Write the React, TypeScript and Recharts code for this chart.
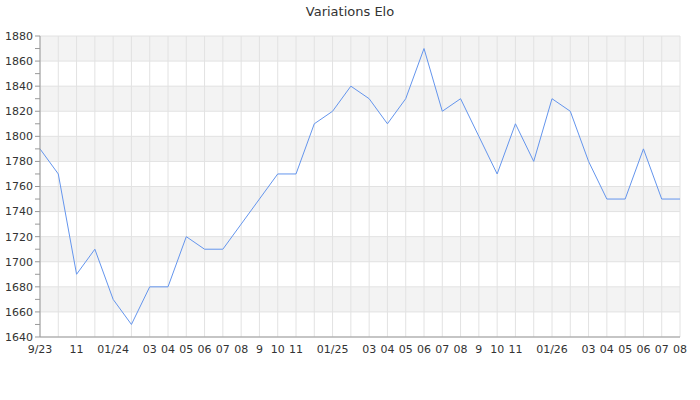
import React from 'react';
import { LineChart, Line, XAxis, YAxis, CartesianGrid } from 'recharts';

const months = [
  '2023-09', '2023-10', '2023-11', '2023-12',
  '2024-01', '2024-02', '2024-03', '2024-04', '2024-05', '2024-06',
  '2024-07', '2024-08', '2024-09', '2024-10', '2024-11', '2024-12',
  '2025-01', '2025-02', '2025-03', '2025-04', '2025-05', '2025-06',
  '2025-07', '2025-08', '2025-09', '2025-10', '2025-11', '2025-12',
  '2026-01', '2026-02', '2026-03', '2026-04', '2026-05', '2026-06',
  '2026-07', '2026-08',
];

// labels shown under the axis (empty = hidden)
const tickLabels = [
  '9/23', '', '11', '',
  '01/24', '', '03', '04', '05', '06', '07', '08', '9', '10', '11', '',
  '01/25', '', '03', '04', '05', '06', '07', '08', '9', '10', '11', '',
  '01/26', '', '03', '04', '05', '06', '07', '08',
];

const elo = [
  1790, 1770, 1690, 1710, 1670, 1650, 1680, 1680, 1720, 1710,
  1710, 1730, 1750, 1770, 1770, 1810, 1820, 1840, 1830, 1810,
  1830, 1870, 1820, 1830, 1800, 1770, 1810, 1780, 1830, 1820,
  1780, 1750, 1750, 1790, 1750, 1750,
];

const yTicks = [
  1640, 1650, 1660, 1670, 1680, 1690, 1700, 1710, 1720, 1730, 1740, 1750, 1760,
  1770, 1780, 1790, 1800, 1810, 1820, 1830, 1840, 1850, 1860, 1870, 1880,
];
const yGrid = [1640, 1660, 1680, 1700, 1720, 1740, 1760, 1780, 1800, 1820, 1840, 1860, 1880];

const data = months.map((m, i) => ({ month: m, elo: elo[i] }));
const labelFor: Record<string, string> = {};
months.forEach((m, i) => (labelFor[m] = tickLabels[i]));

const font = '"DejaVu Sans", sans-serif';

export default function App() {
  return (
    <div style={{ position: 'absolute', left: 0, top: 0, width: 700, height: 400, background: '#fff', fontFamily: font }}>
      <div
        style={{
          position: 'absolute',
          top: 4,
          left: 0,
          width: 700,
          textAlign: 'center',
          fontSize: 13,
          color: '#333',
        }}
      >
        Variations Elo
      </div>
      <LineChart width={700} height={400} data={data} margin={{ top: 36, right: 20, left: 0, bottom: 33 }}>
        <CartesianGrid
          stroke="#e2e2e2"
          horizontalValues={yGrid}
          horizontalFill={['#f3f3f3', '#ffffff']}
          fillOpacity={1}
        />
        <XAxis
          dataKey="month"
          interval={0}
          height={30}
          tickLine={false}
          axisLine={{ stroke: '#999' }}
          tick={{ fontSize: 11, fill: '#333', fontFamily: font }}
          tickFormatter={(v) => labelFor[v]}
        />
        <YAxis
          width={40}
          domain={[1640, 1880]}
          ticks={yTicks}
          interval={0}
          tickSize={5}
          tickMargin={2}
          axisLine={{ stroke: '#999' }}
          tickLine={{ stroke: '#999' }}
          tick={{ fontSize: 11, fill: '#333', fontFamily: font }}
          tickFormatter={(v) => (v % 20 === 0 ? String(v) : '')}
        />
        <Line
          type="linear"
          dataKey="elo"
          stroke="#6495ed"
          strokeWidth={1}
          dot={false}
          activeDot={false}
          isAnimationActive={false}
        />
      </LineChart>
    </div>
  );
}
